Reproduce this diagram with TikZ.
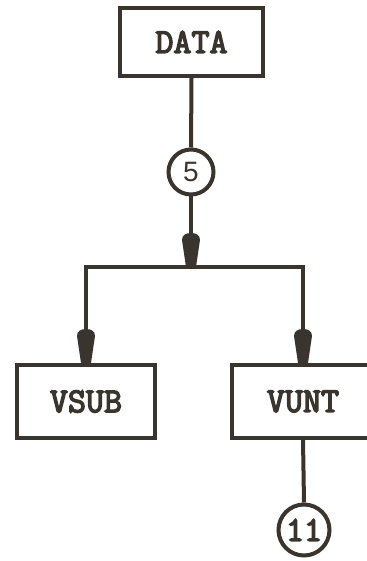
\documentclass[tikz,border=0pt]{standalone}
\usepackage{fontspec}
\newfontfamily\labfont{Latin Modern Mono}[FakeBold=4]
\newfontfamily\numfont{Liberation Sans}
\definecolor{ink}{RGB}{58,52,46}
\begin{document}
\begin{tikzpicture}[x=1pt,y=-1pt,
  every node/.style={font=\labfont\fontsize{35}{35}\selectfont, text=ink},
  box/.style={draw=ink, line width=4pt, rectangle, inner sep=0pt},
  conn/.style={draw=ink, line width=4pt, circle, inner sep=0pt},
  wire/.style={draw=ink, line width=4pt},
  ahead/.pic={\fill[ink] (-5,0) -- (5,0) -- (9,-27) .. controls (9,-32) and (5,-34) .. (0,-34) .. controls (-5,-34) and (-9,-32) .. (-9,-27) -- cycle;}
]
\useasboundingbox (0,0) rectangle (366,561);
\node[box, minimum width=143pt, minimum height=68pt] (data) at (191.5,42) {DATA};
\node[conn, minimum size=45pt] (c5) at (191,172) {\numfont\fontsize{28}{28}\selectfont 5};
\coordinate (j) at (191,267);
\node[box, minimum width=138pt, minimum height=73pt] (vsub) at (86,401.5) {VSUB};
\node[box, minimum width=142pt, minimum height=73pt] (vunt) at (303,401.5) {VUNT};
\node[conn, minimum size=51pt] (c11) at (304,530) {11};

\draw[wire] (data.south) -- (c5.north);
\draw[wire] (c5.south) -- (j);
\pic at (j) {ahead};
\draw[wire] (j) -| (vsub.north);
\draw[wire] (j) -| (vunt.north);
\pic at (vsub.north) {ahead};
\pic at (vunt.north) {ahead};
\draw[wire] (vunt.south) -- (c11.north);
\end{tikzpicture}
\end{document}
